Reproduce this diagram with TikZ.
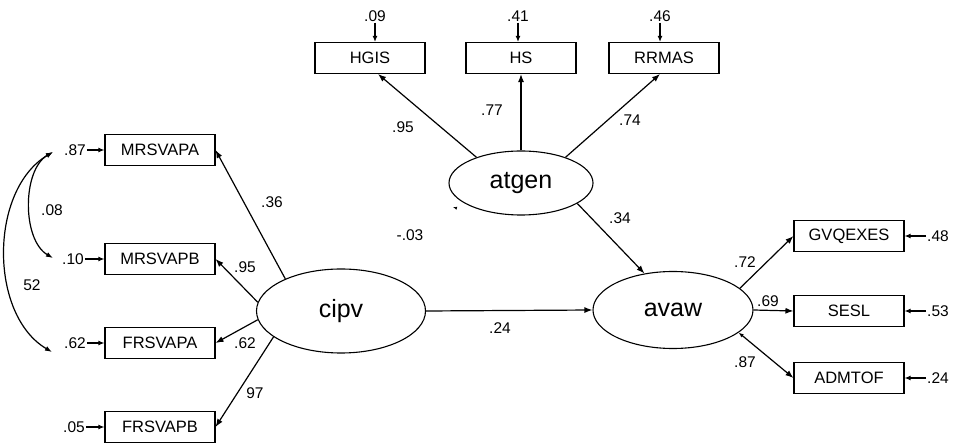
\documentclass[tikz,border=0pt]{standalone}
\usepackage{fontspec}
\setmainfont{Liberation Sans}
\usetikzlibrary{arrows.meta,shapes.geometric}
\begin{document}
\begin{tikzpicture}[x=1pt,y=-1pt,
  obs/.style={draw,line width=1.1pt,minimum width=110pt,minimum height=31pt,inner sep=0pt,
              font=\fontsize{16.5}{16.5}\selectfont},
  lat/.style={draw,ellipse,line width=1.1pt,inner sep=0pt,font=\fontsize{25}{25}\selectfont},
  coef/.style={font=\fontsize{15.5}{15.5}\selectfont,inner sep=1pt},
  effect/.style={line width=1.2pt,-{Latex[length=8pt,width=6pt]}},
  resid/.style={line width=1.2pt,-{Latex[length=6pt,width=5pt]}},
  corr/.style={line width=1.2pt,{Latex[length=7pt,width=5pt]}-{Latex[length=7pt,width=5pt]}},
]
\useasboundingbox (0,0) rectangle (954,443);

% latent variables
\node[lat,minimum width=169pt,minimum height=84pt] (cipv)  at (341,311) {cipv};
\node[lat,minimum width=144pt,minimum height=64pt] (atgen) at (521,183) {atgen};
\node[lat,minimum width=160pt,minimum height=77pt] (avaw)  at (673,310) {avaw};

% indicators of cipv
\node[obs] (mrsvapa) at (160,150) {MRSVAPA};
\node[obs] (mrsvapb) at (160,259) {MRSVAPB};
\node[obs] (frsvapa) at (160,343) {FRSVAPA};
\node[obs] (frsvapb) at (160,427) {FRSVAPB};

% indicators of atgen
\node[obs] (hgis)  at (370,58) {HGIS};
\node[obs] (hs)    at (521,58) {HS};
\node[obs] (rrmas) at (664,58) {RRMAS};

% indicators of avaw
\node[obs] (gvq)    at (849,236) {GVQEXES};
\node[obs] (sesl)   at (849,311) {SESL};
\node[obs] (admtof) at (849,378) {ADMTOF};

% residual terms
\node[coef] (r1) at (75,150) {.87};
\node[coef] (r2) at (73,259) {.10};
\node[coef] (r3) at (75,343) {.62};
\node[coef] (r4) at (74,427) {.05};
\draw[resid] (r1) -- (mrsvapa);
\draw[resid] (r2) -- (mrsvapb);
\draw[resid] (r3) -- (frsvapa);
\draw[resid] (r4) -- (frsvapb);

\node[coef] (r5) at (375,16) {.09};
\node[coef] (r6) at (518,16) {.41};
\node[coef] (r7) at (660,16) {.46};
\draw[resid] (r5) -- (r5 |- hgis.north);
\draw[resid] (r6) -- (r6 |- hs.north);
\draw[resid] (r7) -- (r7 |- rrmas.north);

\node[coef] (r8)  at (938,236) {.48};
\node[coef] (r9)  at (938,311) {.53};
\node[coef] (r10) at (938,378) {.24};
\draw[resid] (r8)  -- (gvq);
\draw[resid] (r9)  -- (sesl);
\draw[resid] (r10) -- (admtof);

% correlated residuals
\coordinate (c87) at (53,152);
\coordinate (c10) at (53,258);
\coordinate (c62) at (52,352);
\draw[corr] (c87) .. controls (22,170) and (22,240) .. (c10);
\draw[corr] (c87) .. controls (-11,190) and (-11,315) .. (c62);
\node[coef] at (52,210) {.08};
\node[coef] at (32,285) {52};

% loadings of cipv
\draw[effect] (cipv.150) -- (mrsvapa.east);
\draw[effect] (cipv.174) -- (mrsvapb.east);
\draw[effect] (cipv.186) -- (frsvapa.east);
\draw[effect] (cipv.201) -- (frsvapb.east);
\node[coef] at (272,202) {.36};
\node[coef] at (245,267) {.95};
\node[coef] at (245,343) {.62};
\node[coef] at (255,393) {97};

% loadings of atgen
\draw[effect] (atgen.150) -- ([xshift=8pt]hgis.south);
\draw[effect] (atgen.north) -- (hs.south);
\draw[effect] (atgen.30) -- ([xshift=-4pt]rrmas.south);
\node[coef] at (403,127) {.95};
\node[coef] at (492,110) {.77};
\node[coef] at (630,120) {.74};

% structural paths
\draw[effect] (atgen.-20) -- (avaw.128);
\draw[effect] (cipv.east) -- (avaw.west);
\node[coef] at (620,218) {.34};
\node[coef] at (500,328) {.24};
\node[coef] at (410,235) {-.03};
\coordinate (tipc) at (453,207);
\draw[line width=0.4pt,-{Latex[length=4pt,width=3pt]}] ([shift={(3,1)}]tipc) -- (tipc);

% loadings of avaw
\draw[effect] (avaw.18) -- (gvq.west);
\draw[effect] (avaw.east) -- (sesl.west);
\draw[line width=1.2pt,{Latex[length=5pt,width=4pt]}-{Latex[length=8pt,width=6pt]}] (avaw.-19) -- (admtof.west);
\node[coef] at (745,262) {.72};
\node[coef] at (768,301) {.69};
\node[coef] at (745,362) {.87};
\end{tikzpicture}
\end{document}
